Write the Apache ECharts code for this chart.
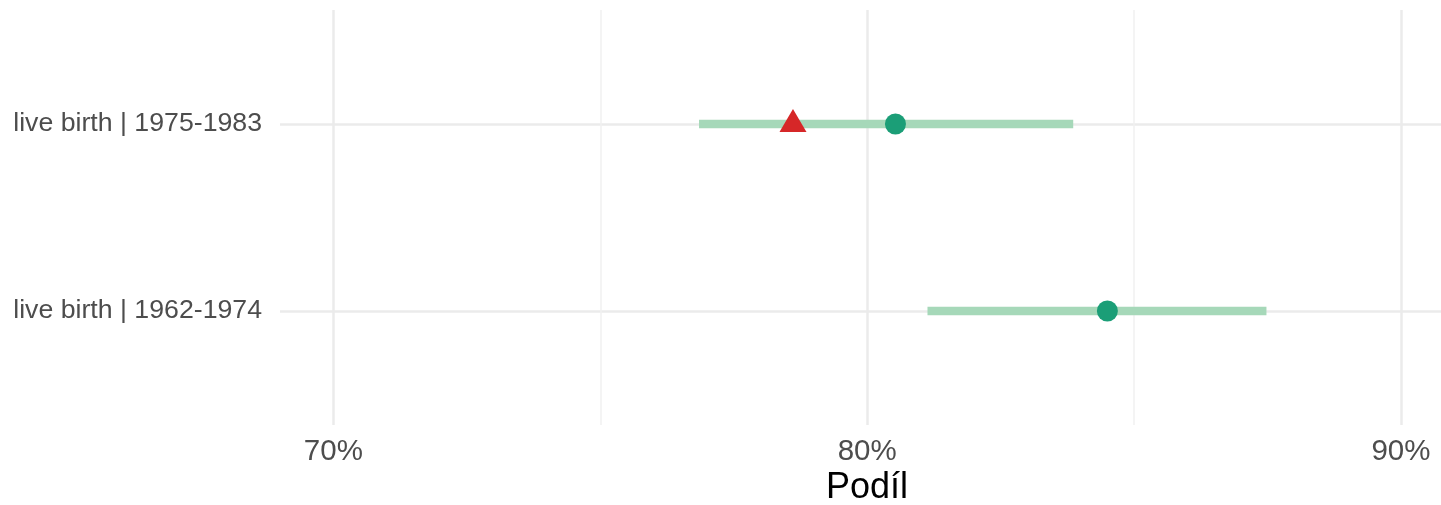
<!DOCTYPE html>
<html>
<head>
<meta charset="utf-8">
<script src="https://cdn.jsdelivr.net/npm/echarts@6/dist/echarts.min.js"></script>
<style>
html,body{margin:0;padding:0;background:#fff;}
#chart{width:1441px;height:505px;}
</style>
</head>
<body>
<div id="chart"></div>
<script>
// Data (percent)
const categories = ['live birth | 1962-1974', 'live birth | 1975-1983'];
const rangeLow  = [81.13, 76.85];
const rangeHigh = [87.48, 83.86];
const estimate  = [84.50, 80.53];
const triangleCats = ['live birth | 1975-1983'];
const triangleVals = [78.61];
const majorTicks = [70, 80, 90];
const minorTicks = [75, 85];
const xTitle = 'Podíl';

const catPos = c => categories.indexOf(c) + 1;

const chart = echarts.init(document.getElementById('chart'), null, {renderer: 'canvas'});

const gridCommon = {left: 280, right: 0, top: 10, bottom: 80, containLabel: false};
const xMin = 69.0, xMax = 90.75;

const option = {
  animation: false,
  backgroundColor: '#ffffff',
  grid: gridCommon,
  graphic: [{
    type: 'text', left: 826, top: 470,
    style: {text: xTitle, font: '36px "Liberation Sans", Arial, sans-serif', fill: '#000000'}
  }],
  xAxis: [{
    type: 'value', min: xMin, max: xMax,
    axisLine: {show: false}, axisTick: {show: false, customValues: majorTicks},
    axisLabel: {customValues: majorTicks, formatter: v => v + '%', color: '#4D4D4D', fontSize: 29.5, fontFamily: '"Liberation Sans", Arial, sans-serif', margin: 12},
    splitLine: {show: true, lineStyle: {color: '#EBEBEB', width: 2.5}}
  }, {
    type: 'value', min: xMin, max: xMax, position: 'bottom',
    axisLine: {show: false}, axisTick: {show: false, customValues: minorTicks},
    axisLabel: {show: false, customValues: minorTicks},
    splitLine: {show: true, lineStyle: {color: '#F0F0F0', width: 1.5}}
  }],
  yAxis: {
    type: 'value', min: 0.39, max: 2.61,
    axisLine: {show: false}, axisTick: {show: false, customValues: [1, 2]},
    axisLabel: {customValues: [1, 2], formatter: v => categories[Math.round(v) - 1] || '', color: '#4D4D4D', fontSize: 26.7, fontFamily: '"Liberation Sans", Arial, sans-serif', margin: 18, padding: [2, 0, 0, 0]},
    splitLine: {show: true, lineStyle: {color: '#EBEBEB', width: 2.5}}
  },
  series: [{
    type: 'custom',
    xAxisIndex: 0,
    data: categories.map((c, i) => [rangeLow[i], rangeHigh[i], i + 1]),
    renderItem: (params, api) => {
      const a = api.coord([api.value(0), api.value(2)]);
      const b = api.coord([api.value(1), api.value(2)]);
      return {type: 'line', shape: {x1: a[0], y1: a[1], x2: b[0], y2: b[1]},
        style: {stroke: '#A6D8B9', lineWidth: 8.5, lineCap: 'butt'}};
    },
    z: 2
  }, {
    type: 'scatter',
    data: categories.map((c, i) => [estimate[i], i + 1]),
    symbol: 'circle', symbolSize: 21,
    itemStyle: {color: '#1B9E77', opacity: 1},
    z: 3
  }, {
    type: 'scatter',
    data: triangleCats.map((c, i) => [triangleVals[i], catPos(c)]),
    symbol: 'triangle', symbolSize: [27, 23], symbolOffset: [0, -3.5],
    itemStyle: {color: '#D62728', opacity: 1},
    z: 4
  }]
};
chart.setOption(option);
</script>
</body>
</html>
